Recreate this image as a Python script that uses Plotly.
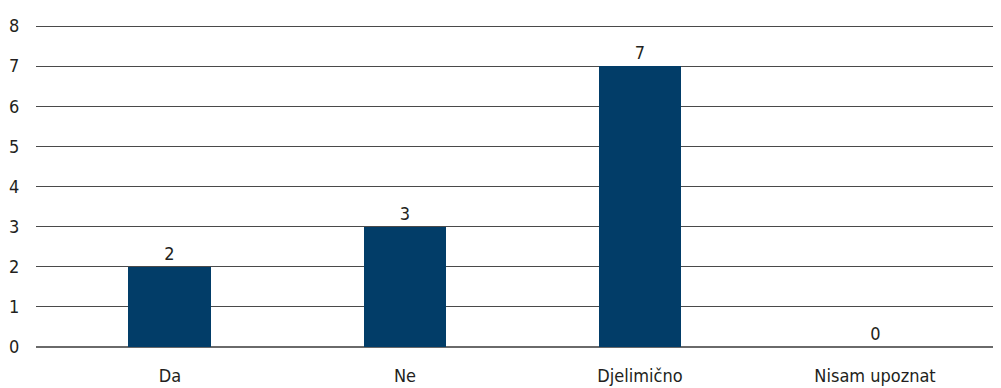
import plotly.graph_objects as go

categories = ["Da", "Ne", "Djelimično", "Nisam upoznat"]
values = [2, 3, 7, 0]
y_ticks = [0, 1, 2, 3, 4, 5, 6, 7, 8]

FONT = "DejaVu Sans Condensed, Liberation Sans Narrow, sans-serif"
TEXT_COLOR = "#231f20"

# The page body has an 8px margin, so the figure is sized/offset to compensate.
fig = go.Figure(
    go.Bar(
        x=list(range(len(categories))),
        y=values,
        width=0.353,
        marker=dict(color="#023d68", line=dict(width=0)),
        text=[str(v) for v in values],
        textposition="outside",
        textfont=dict(family=FONT, size=18, color=TEXT_COLOR),
        cliponaxis=False,
    )
)

fig.update_layout(
    width=993,
    height=380,
    margin=dict(l=28, r=0, t=8, b=41),
    paper_bgcolor="white",
    plot_bgcolor="white",
    showlegend=False,
    font=dict(family=FONT, size=18, color=TEXT_COLOR),
    bargap=0,
)

fig.update_xaxes(
    range=[-0.570, 3.536],
    tickmode="array",
    tickvals=list(range(len(categories))),
    ticktext=categories,
    showgrid=False,
    zeroline=False,
    showline=False,
    ticks="outside",
    ticklen=12,
    tickcolor="rgba(0,0,0,0)",
    tickfont=dict(family=FONT, size=18, color=TEXT_COLOR),
)

fig.update_yaxes(
    range=[0, 8.25],
    tickmode="array",
    tickvals=y_ticks,
    ticktext=[str(t) for t in y_ticks],
    showgrid=True,
    gridcolor="#4a4a4a",
    gridwidth=1,
    zeroline=True,
    zerolinecolor="#6a6a6a",
    zerolinewidth=1.5,
    showline=False,
    ticks="outside",
    ticklen=12,
    tickcolor="rgba(0,0,0,0)",
    tickfont=dict(family=FONT, size=18, color=TEXT_COLOR),
)

fig.write_html("out.html")
